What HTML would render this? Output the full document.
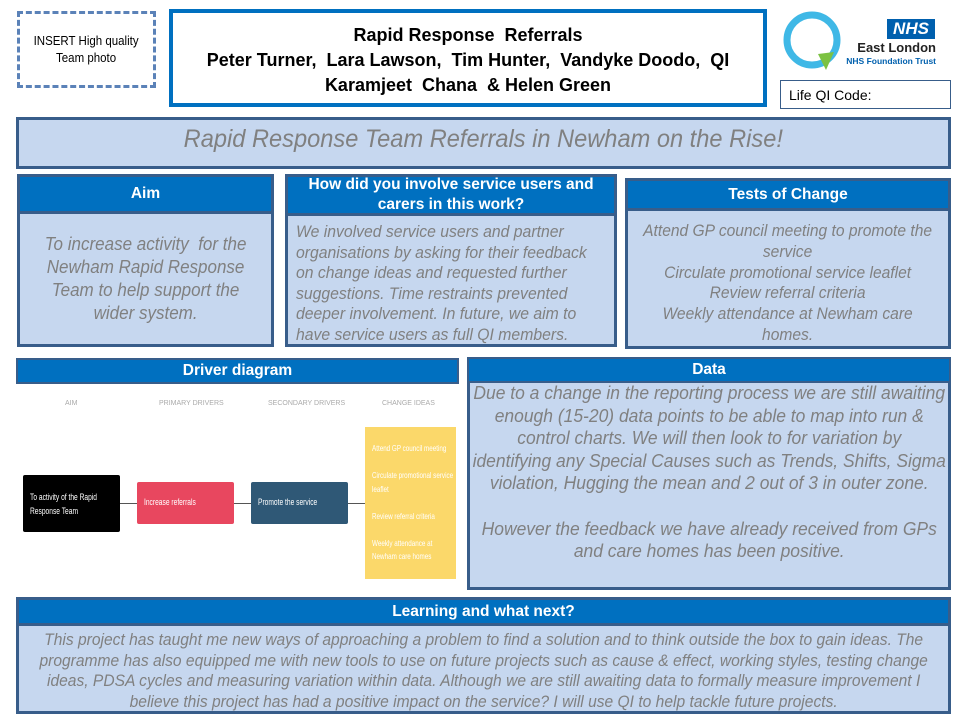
<!DOCTYPE html>
<html><head><meta charset="utf-8"><style>
*{box-sizing:border-box;margin:0;padding:0}
body{width:960px;height:720px;background:#fff;position:relative;font-family:"Liberation Sans",sans-serif;overflow:hidden}
.a{position:absolute}
.box{position:absolute;background:#c6d7ef;border:3px solid #385d8a}
.hd{position:absolute;background:#0070c0;border:3px solid #385d8a;color:#fff;font-weight:bold;text-align:center;font-size:15.5px;display:flex;align-items:center;justify-content:center;line-height:20px}
.tx{position:absolute;color:#808080;font-style:italic;text-align:center;white-space:nowrap}
.sc{width:116%;margin-left:-8%;transform:scaleX(.945)}
.sl{width:116%;transform:scaleX(.955);transform-origin:left}
.dd{position:absolute;color:#fff;white-space:nowrap;font-size:8.5px;transform:scaleX(.74);transform-origin:left}
</style></head><body>
<div class="a" style="left:17px;top:11px;width:139px;height:77px;border:3px dashed #5b82b8;display:flex;align-items:center;justify-content:center;text-align:center;font-size:12.5px;line-height:17px;color:#000"><div style="transform:scaleX(.92)">INSERT High quality<br>Team photo</div></div>
<div class="a" style="left:169px;top:9px;width:598px;height:98px;border:4px solid #0070c0;text-align:center;font-weight:bold;font-size:18px;line-height:25px;padding-top:10px;color:#000"><div>Rapid Response&nbsp; Referrals<br>Peter Turner,&nbsp; Lara Lawson,&nbsp; Tim Hunter,&nbsp; Vandyke Doodo,&nbsp; QI<br>Karamjeet&nbsp; Chana&nbsp; &amp; Helen Green</div></div>
<svg class="a" style="left:780px;top:8px" width="70" height="68"><circle cx="32" cy="32" r="25" fill="none" stroke="#3fb8e6" stroke-width="7"/><path d="M38 46 L54 44 L46 62 Z" fill="#7cc242"/></svg>
<div class="a" style="left:887px;top:19px;width:48px;height:20px;background:#0060ae;color:#fff;font-weight:bold;font-style:italic;font-size:17px;text-align:center;line-height:20px">NHS</div>
<div class="a" style="left:840px;top:40px;width:96px;text-align:right;font-weight:bold;font-size:13px;color:#222">East London</div>
<div class="a" style="left:820px;top:56px;width:116px;text-align:right;font-weight:bold;font-size:8.5px;color:#0060ae">NHS Foundation Trust</div>
<div class="a" style="left:780px;top:80px;width:171px;height:29px;border:1px solid #385d8a;font-size:14px;padding:6px 0 0 8px">Life QI Code:</div>

<div class="box" style="left:16px;top:117px;width:935px;height:52px"></div>
<div class="tx" style="left:16px;top:125px;width:935px;font-size:25px;line-height:28px"><div class="sc">Rapid Response Team Referrals in Newham on the Rise!</div></div>

<div class="box" style="left:17px;top:174px;width:257px;height:173px"></div>
<div class="hd" style="left:17px;top:174px;width:257px;height:40px">Aim</div>
<div class="tx" style="left:20px;top:233px;width:251px;font-size:18px;line-height:23px"><div class="sc">To increase activity&nbsp; for the<br>Newham Rapid Response<br>Team to help support the<br>wider system.</div></div>

<div class="box" style="left:285px;top:174px;width:332px;height:173px"></div>
<div class="hd" style="left:285px;top:174px;width:332px;height:42px">How did you involve service users and<br>carers in this work?</div>
<div class="tx" style="left:296px;top:222px;width:318px;text-align:left;font-size:16.5px;line-height:20.6px"><div class="sl">We involved service users and partner<br>organisations by asking for their feedback<br>on change ideas and requested further<br>suggestions. Time restraints prevented<br>deeper involvement. In future, we aim to<br>have service users as full QI members.</div></div>

<div class="box" style="left:625px;top:178px;width:326px;height:171px"></div>
<div class="hd" style="left:625px;top:178px;width:326px;height:33px">Tests of Change</div>
<div class="tx" style="left:628px;top:221px;width:320px;font-size:16.5px;line-height:20.8px"><div class="sc">Attend GP council meeting to promote the<br>service<br>Circulate promotional service leaflet<br>Review referral criteria<br>Weekly attendance at Newham care<br>homes.</div></div>

<div class="hd" style="left:16px;top:358px;width:443px;height:26px;border-width:2px">Driver diagram</div>
<div class="a" style="left:20px;top:400px;font-size:7px;color:#aaa;width:440px">
<span class="a" style="left:45px">AIM</span><span class="a" style="left:139px">PRIMARY DRIVERS</span><span class="a" style="left:248px">SECONDARY DRIVERS</span><span class="a" style="left:362px">CHANGE IDEAS</span></div>
<div class="a" style="left:110px;top:503px;width:260px;height:1px;background:#555"></div>
<div class="a" style="left:23px;top:475px;width:97px;height:57px;background:#000;border-radius:2px"></div>
<div class="dd" style="left:30px;top:490px;line-height:14px;font-size:9px">To activity of the Rapid<br>Response Team</div>
<div class="a" style="left:137px;top:482px;width:97px;height:42px;background:#e8475f;border-radius:2px"></div>
<div class="dd" style="left:144px;top:497px;font-size:9px">Increase referrals</div>
<div class="a" style="left:251px;top:482px;width:97px;height:42px;background:#2f5876;border-radius:2px"></div>
<div class="dd" style="left:258px;top:497px;font-size:9px">Promote the service</div>
<div class="a" style="left:365px;top:427px;width:91px;height:152px;background:#fbd86a"></div>
<div class="dd" style="left:372px;top:442px;line-height:13.5px">Attend GP council meeting<br><br>Circulate promotional service<br>leaflet<br><br>Review referral criteria<br><br>Weekly attendance at<br>Newham care homes</div>

<div class="box" style="left:467px;top:357px;width:484px;height:233px"></div>
<div class="hd" style="left:467px;top:357px;width:484px;height:26px;border-width:2px">Data</div>
<div class="tx" style="left:470px;top:382px;width:478px;font-size:18px;line-height:22.6px"><div class="sc" style="transform:scaleX(.97)">Due to a change in the reporting process we are still awaiting<br>enough (15-20) data points to be able to map into run &amp;<br>control charts. We will then look to for variation by<br>identifying any Special Causes such as Trends, Shifts, Sigma<br>violation, Hugging the mean and 2 out of 3 in outer zone.<br><br>However the feedback we have already received from GPs<br>and care homes has been positive.</div></div>

<div class="box" style="left:16px;top:597px;width:935px;height:117px"></div>
<div class="hd" style="left:16px;top:597px;width:935px;height:29px">Learning and what next?</div>
<div class="tx" style="left:20px;top:630px;width:927px;font-size:16.5px;line-height:20.6px"><div class="sc">This project has taught me new ways of approaching a problem to find a solution and to think outside the box to gain ideas. The<br>programme has also equipped me with new tools to use on future projects such as cause &amp; effect, working styles, testing change<br>ideas, PDSA cycles and measuring variation within data. Although we are still awaiting data to formally measure improvement I<br>believe this project has had a positive impact on the service? I will use QI to help tackle future projects.</div></div>
</body></html>
